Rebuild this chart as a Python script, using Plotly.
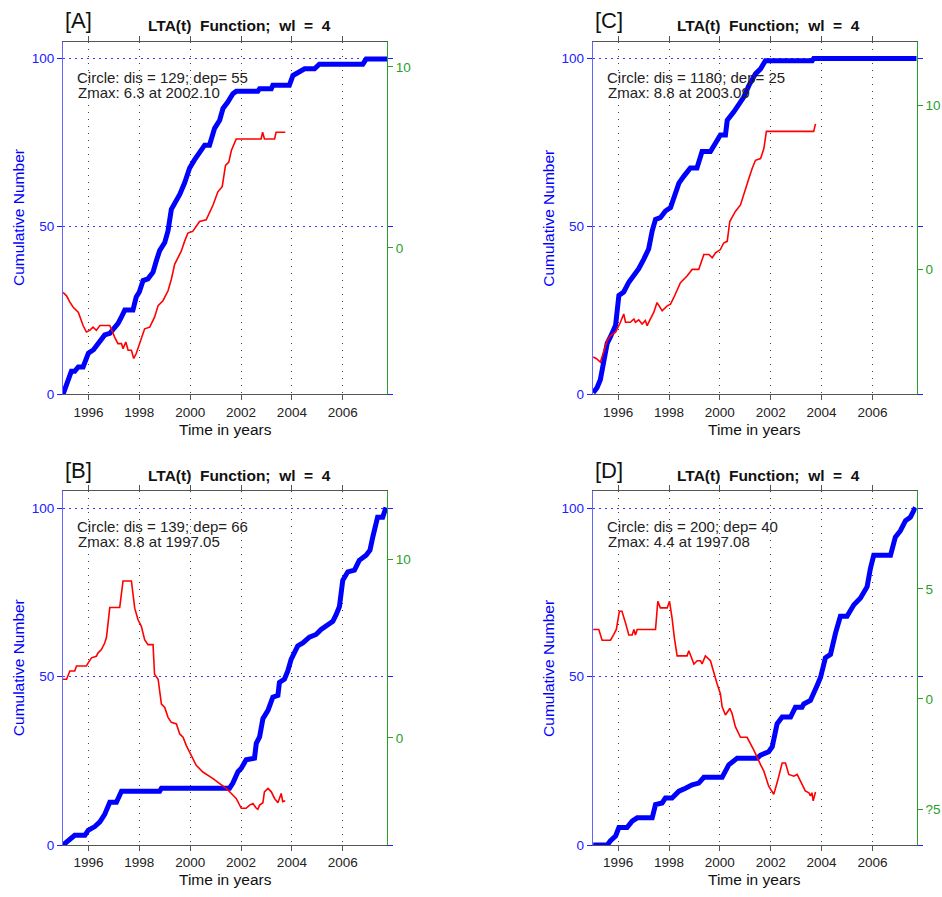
import plotly.graph_objects as go

FONT = "Liberation Sans, Arial, Helvetica, sans-serif"
W, H = 942, 897

YEARS = [1996, 1998, 2000, 2002, 2004, 2006]
YEAR_LABELS = ["1996", "1998", "2000", "2002", "2004", "2006"]
X_RANGE = [1995.0, 2007.74]
N_RANGE = [0, 105]
N_TICKS = [0, 50, 100]
N_LABELS = ["0", "50", "100"]

TITLE = "LTA(t)\u00a0\u00a0Function;\u00a0\u00a0wl\u00a0\u00a0=\u00a0\u00a04"
X_TITLE = "Time in years"
Y_TITLE = "Cumulative Number"

# ---------------- Panel A ----------------
A_blue_t = [1995.0, 1995.2, 1995.33, 1995.46, 1995.6, 1995.79, 1996.0, 1996.2, 1996.45, 1996.64, 1996.84,
            1997.03, 1997.16, 1997.3, 1997.43, 1997.75, 1997.88, 1998.0, 1998.15, 1998.34, 1998.54, 1998.67,
            1998.8, 1999.0, 1999.13, 1999.26, 1999.46, 1999.59, 1999.78, 1999.98, 2000.17, 2000.37, 2000.57,
            2000.76, 2000.96, 2001.16, 2001.29, 2001.48, 2001.68, 2001.81, 2002.66, 2002.73, 2003.19, 2003.25,
            2003.9, 2004.04, 2004.3, 2004.5, 2004.89, 2005.08, 2006.79, 2006.92, 2007.74]
A_blue_n = [0, 4.4, 6.9, 6.9, 8.2, 8.2, 12.3, 13.3, 15.7, 17.7, 18.2,
            19.7, 21.1, 23.1, 25.1, 25.1, 29, 30.5, 33.9, 34.4, 36.4, 39.8,
            42.8, 45.2, 48.7, 55.1, 57.5, 59.5, 62.9, 67.4, 69.8, 71.8, 74.2,
            74.2, 79.2, 81.6, 85.1, 87, 89.5, 90.2, 90.2, 91, 91, 92,
            92, 94.9, 95.9, 96.9, 96.9, 98.3, 98.3, 99.8, 99.8]
A_red_t = [1995.0, 1995.14, 1995.27, 1995.4, 1995.6, 1995.79, 1995.92, 1996.05, 1996.18, 1996.31, 1996.45,
           1996.84, 1997.03, 1997.16, 1997.3, 1997.36, 1997.47, 1997.56, 1997.69, 1997.78, 1997.88, 1998.02,
           1998.21, 1998.41, 1998.6, 1998.74, 1998.93, 1999.13, 1999.26, 1999.39, 1999.65, 1999.78, 1999.91,
           2000.1, 2000.24, 2000.37, 2000.63, 2000.76, 2000.9, 2001.09, 2001.26, 2001.39, 2001.52, 2001.62,
           2001.81, 2002.79, 2002.85, 2002.92, 2003.32, 2003.38, 2003.74]
A_red_z = [-2.46, -2.65, -3.0, -3.28, -3.56, -4.29, -4.65, -4.56, -4.38, -4.56, -4.29,
           -4.29, -4.93, -5.29, -5.29, -5.57, -5.2, -5.66, -5.66, -6.11, -5.84, -5.29,
           -4.47, -4.38, -3.83, -3.19, -2.92, -2.37, -1.73, -0.91, -0.18, 0.36, 0.82,
           0.91, 1.19, 1.46, 1.55, 1.92, 2.37, 3.1, 3.38, 4.56, 4.74, 5.38,
           6.02, 6.02, 6.39, 6.02, 6.02, 6.39, 6.39]

# ---------------- Panel C ----------------
C_blue_t = [1995.02, 1995.17, 1995.3, 1995.44, 1995.57, 1995.7, 1995.9, 1996.03, 1996.22, 1996.42, 1996.62,
            1996.81, 1997.01, 1997.2, 1997.34, 1997.47, 1997.66, 1997.86, 1998.06, 1998.19, 1998.39, 1998.58,
            1998.84, 1999.1, 1999.3, 1999.63, 1999.83, 2000.02, 2000.22, 2000.29, 2000.55, 2000.74, 2000.94,
            2001.14, 2001.4, 2001.6, 2001.79, 2003.63, 2003.69, 2007.74]
C_blue_n = [0.5, 2, 4.4, 9.8, 15.2, 17.2, 20.6, 29.5, 30.5, 33.4, 35.4,
            37.4, 40.3, 43.3, 48.7, 52.1, 52.6, 54.6, 55.6, 58.5, 62.9, 64.9,
            67.4, 67.4, 72.3, 72.3, 74.7, 77.2, 77.2, 81.6, 84.1, 86, 88.5,
            91.9, 95.4, 96.9, 99.3, 99.3, 100, 100]
C_red_t = [1995.02, 1995.15, 1995.3, 1995.44, 1995.57, 1995.7, 1995.9, 1996.09, 1996.22, 1996.29, 1996.48,
           1996.62, 1996.68, 1996.81, 1996.94, 1997.07, 1997.14, 1997.27, 1997.4, 1997.53, 1997.73, 1997.93,
           1998.06, 1998.19, 1998.45, 1998.71, 1998.91, 1999.17, 1999.37, 1999.57, 1999.7, 1999.83, 2000.02,
           2000.15, 2000.29, 2000.39, 2000.61, 2000.81, 2001.0, 2001.14, 2001.27, 2001.4, 2001.6, 2001.73,
           2001.83, 2003.69, 2003.76]
C_red_z = [-5.32, -5.42, -5.63, -4.92, -4.31, -4.01, -3.81, -3.2, -2.7, -3.2, -3.2,
           -3.0, -3.2, -3.05, -3.31, -3.1, -3.41, -3.0, -2.6, -2.0, -2.5, -2.2,
           -2.1, -1.69, -0.79, -0.38, 0.02, 0.02, 0.93, 0.93, 0.73, 1.03, 1.23,
           1.63, 1.73, 2.94, 3.55, 3.95, 4.96, 5.56, 6.17, 6.67, 6.77, 7.38,
           8.43, 8.43, 8.89]

# ---------------- Panel B ----------------
B_blue_t = [1995.0, 1995.2, 1995.33, 1995.46, 1995.86, 1995.99, 1996.25, 1996.45, 1996.64, 1996.84, 1997.1,
            1997.3, 1998.8, 1998.87, 2001.55, 2001.68, 2001.88, 2002.01, 2002.2, 2002.4, 2002.53, 2002.6,
            2002.73, 2002.86, 2003.06, 2003.25, 2003.45, 2003.51, 2003.71, 2003.84, 2003.97, 2004.23, 2004.43,
            2004.69, 2004.95, 2005.15, 2005.41, 2005.61, 2005.74, 2005.87, 2006.0, 2006.2, 2006.46, 2006.65,
            2006.92, 2007.07, 2007.18, 2007.37, 2007.57, 2007.7]
B_blue_n = [0, 1.3, 2, 2.9, 2.9, 4.4, 5.5, 6.9, 9.1, 12.7, 12.7,
            16, 16, 16.9, 16.9, 18.4, 21.8, 22.8, 25.3, 25.8, 25.8, 30.2,
            32.1, 37.5, 40, 43.9, 44.4, 48.3, 49.3, 51.7, 55.1, 59.1, 60,
            61.7, 62.5, 64, 65.4, 66.4, 68.4, 70.8, 78.6, 81.1, 81.6, 84.5,
            86, 87.5, 91.4, 97.3, 97.3, 100.2]
B_red_t = [1995.0, 1995.14, 1995.27, 1995.46, 1995.53, 1995.92, 1995.99, 1996.12, 1996.31, 1996.38, 1996.51,
           1996.64, 1996.71, 1996.84, 1997.23, 1997.36, 1997.69, 1997.82, 1997.95, 1998.08, 1998.21, 1998.34,
           1998.54, 1998.6, 1998.74, 1998.87, 1999.0, 1999.13, 1999.26, 1999.46, 1999.59, 1999.72, 1999.85,
           2000.04, 2000.24, 2000.5, 2000.7, 2000.9, 2001.16, 2001.42, 2001.62, 2001.81, 2002.01, 2002.2,
           2002.34, 2002.47, 2002.6, 2002.66, 2002.73, 2002.86, 2002.92, 2003.06, 2003.19, 2003.32, 2003.45,
           2003.58, 2003.64, 2003.74]
B_red_z = [3.28, 3.28, 3.74, 3.74, 4.02, 4.02, 4.2, 4.48, 4.57, 4.76, 4.94,
           5.31, 5.63, 7.3, 7.3, 8.78, 8.78, 7.26, 6.61, 6.24, 5.5, 5.22,
           5.22, 3.56, 3.28, 1.89, 1.7, 1.15, 0.87, 0.78, 0.22, 0.04, -0.43,
           -0.98, -1.54, -1.91, -2.09, -2.28, -2.56, -2.83, -3.11, -3.39, -3.94, -3.94,
           -3.76, -3.67, -3.94, -4.0, -3.76, -3.63, -3.02, -2.83, -3.02, -3.39, -3.63,
           -3.11, -3.57, -3.52]

# ---------------- Panel D ----------------
D_blue_t = [1995.02, 1995.57, 1995.7, 1995.9, 1996.03, 1996.35, 1996.55, 1996.75, 1997.34, 1997.47, 1997.73,
            1997.86, 1998.12, 1998.39, 1998.65, 1998.91, 1999.17, 1999.37, 2000.09, 2000.35, 2000.68, 2001.47,
            2001.6, 2001.92, 2002.06, 2002.25, 2002.45, 2002.78, 2002.97, 2003.23, 2003.3, 2003.56, 2003.82,
            2003.96, 2004.15, 2004.35, 2004.55, 2004.74, 2005.0, 2005.27, 2005.53, 2005.79, 2005.92, 2006.05,
            2006.71, 2006.9, 2007.1, 2007.3, 2007.49, 2007.69]
D_blue_n = [0, 0, 1.3, 2.7, 5.2, 5.2, 7.1, 8.1, 8.1, 12, 12.5,
            14, 14, 16, 16.9, 17.9, 18.4, 20.1, 20.1, 23.8, 25.8, 25.8,
            26.7, 27.7, 29.2, 36, 38, 38, 40.9, 40.9, 41.9, 42.9, 47.3,
            49.8, 55.6, 56.6, 63, 67.9, 67.9, 71.3, 73.3, 76.7, 82.1, 86,
            86, 91.4, 93.3, 96.3, 97.3, 100.2]
D_red_t = [1995.02, 1995.24, 1995.37, 1995.7, 1995.83, 1995.93, 1996.05, 1996.15, 1996.29, 1996.42, 1996.55,
           1996.62, 1996.68, 1996.75, 1997.47, 1997.56, 1997.66, 1997.93, 1998.02, 1998.12, 1998.21, 1998.32,
           1998.71, 1998.78, 1998.98, 1999.11, 1999.24, 1999.3, 1999.43, 1999.63, 1999.89, 2000.02, 2000.09,
           2000.22, 2000.39, 2000.48, 2000.61, 2000.81, 2001.07, 2001.33, 2001.6, 2001.73, 2001.92, 2002.12,
           2002.25, 2002.45, 2002.58, 2002.71, 2002.91, 2003.04, 2003.17, 2003.36, 2003.5, 2003.56, 2003.62,
           2003.67, 2003.76]
D_red_z = [3.16, 3.16, 2.67, 2.67, 2.94, 3.16, 3.99, 3.99, 3.46, 2.91, 2.91,
           3.16, 2.91, 3.16, 3.16, 4.44, 4.14, 4.14, 4.44, 3.69, 2.79, 1.96,
           1.96, 2.19, 1.59, 1.74, 1.74, 1.59, 1.96, 1.74, 0.69, 0.24, -0.36,
           -0.73, -0.43, -0.66, -1.26, -1.74, -1.74, -2.31, -2.98, -3.28, -3.96, -4.33,
           -3.81, -2.91, -2.91, -3.43, -3.51, -3.43, -3.73, -4.18, -4.26, -4.41, -4.26,
           -4.63, -4.23]

panels = [
    dict(letter="[A]", box=(63, 42, 387, 398), bt=A_blue_t, bn=A_blue_n, rt=A_red_t, rz=A_red_z,
         rrange=[-8.1, 11.4], rticks=[0, 10], rlabels=["0", "10"],
         line1="Circle: dis = 129; dep= 55", line2="Zmax: 6.3 at 2002.10"),
    dict(letter="[C]", box=(592.7, 42, 916.7, 398), bt=C_blue_t, bn=C_blue_n, rt=C_red_t, rz=C_red_z,
         rrange=[-7.6, 13.9], rticks=[0, 10], rlabels=["0", "10"],
         line1="Circle: dis = 1180; dep= 25", line2="Zmax: 8.8 at 2003.09"),
    dict(letter="[B]", box=(63, 495.7, 387, 852.7), bt=B_blue_t, bn=B_blue_n, rt=B_red_t, rz=B_red_z,
         rrange=[-6.0, 13.8], rticks=[0, 10], rlabels=["0", "10"],
         line1="Circle: dis = 139; dep= 66", line2="Zmax: 8.8 at 1997.05"),
    dict(letter="[D]", box=(592.7, 495.7, 916.7, 852.7), bt=D_blue_t, bn=D_blue_n, rt=D_red_t, rz=D_red_z,
         rrange=[-6.64, 9.44], rticks=[-5, 0, 5], rlabels=["?5", "0", "5"],
         line1="Circle: dis = 200; dep= 40", line2="Zmax: 4.4 at 1997.08"),
]

BLUE = "#0000ff"
AXBLUE = "rgb(100,100,255)"
TICKBLUE = "#2020ff"
GREEN = "rgb(40,160,40)"
GRAY = "#555555"


def px(x):
    return x / W


def py(y):
    return 1 - y / H


fig = go.Figure()
layout = dict(
    width=W, height=H, margin=dict(l=0, r=0, t=0, b=0),
    paper_bgcolor="white", plot_bgcolor="white", showlegend=False,
    font=dict(family=FONT, size=13, color="#222222"),
)
annotations = []

for i, p in enumerate(panels):
    k = i + 1
    L, T, R, B = p["box"]
    xa = "x" if k == 1 else f"x{k}"
    ya_left = "y" if k == 1 else f"y{k}"
    ya_right = f"y{k + 4}"
    ya_tick = f"y{k + 8}"

    fig.add_trace(go.Scatter(x=p["rt"], y=p["rz"], mode="lines", line=dict(color="#ff0000", width=1.6),
                             xaxis=xa, yaxis=ya_right, hoverinfo="skip"))
    fig.add_trace(go.Scatter(x=p["bt"], y=p["bn"], mode="lines", line=dict(color=BLUE, width=5),
                             xaxis=xa, yaxis=ya_left, hoverinfo="skip"))
    fig.add_trace(go.Scatter(x=[X_RANGE[0]], y=[None], mode="lines", xaxis=xa, yaxis=ya_tick,
                             hoverinfo="skip"))

    xname = "xaxis" if k == 1 else f"xaxis{k}"
    yname = "yaxis" if k == 1 else f"yaxis{k}"
    layout[xname] = dict(
        domain=[px(L), px(R)], anchor=ya_left, range=X_RANGE,
        tickvals=YEARS, ticktext=YEAR_LABELS, ticks="outside", ticklen=5, tickcolor=GRAY,
        showline=True, linecolor=GRAY, linewidth=1, mirror="ticks",
        showgrid=True, gridcolor="#444444", griddash="1px,6px", gridwidth=1,
        zeroline=False, tickfont=dict(family=FONT, size=13.5, color="#222222"),
    )
    layout[yname] = dict(
        domain=[py(B), py(T)], anchor=xa, range=N_RANGE,
        tickvals=N_TICKS, ticktext=N_LABELS, ticks="outside", ticklen=5, tickcolor=TICKBLUE,
        showline=True, linecolor=AXBLUE, linewidth=1,
        showgrid=True, gridcolor="#3a3aff", griddash="2px,4px", gridwidth=1,
        zeroline=False, tickfont=dict(family=FONT, size=13.5, color=TICKBLUE),
    )
    layout[f"yaxis{k + 8}"] = dict(
        overlaying=ya_left, anchor=xa, side="right", range=N_RANGE,
        tickvals=N_TICKS, ticks="outside", ticklen=5, tickcolor=TICKBLUE,
        showticklabels=False, showline=False, showgrid=False, zeroline=False,
    )
    layout[f"yaxis{k + 4}"] = dict(
        overlaying=ya_left, anchor=xa, side="right", range=p["rrange"],
        tickvals=p["rticks"], ticktext=p["rlabels"], ticks="outside", ticklen=5, tickcolor=GREEN,
        showline=True, linecolor=GREEN, linewidth=1, showgrid=False, zeroline=False,
        tickfont=dict(family=FONT, size=13.5, color=GREEN),
    )

    annotations += [
        dict(text=p["letter"], x=px(L), y=py(T - 21), xref="paper", yref="paper", xanchor="left",
             yanchor="middle", showarrow=False, font=dict(family=FONT, size=22, color="#111111")),
        dict(text="<b>" + TITLE + "</b>", x=px((L + R) / 2 + 14), y=py(T - 16), xref="paper", yref="paper",
             xanchor="center", yanchor="middle", showarrow=False,
             font=dict(family=FONT, size=15.5, color="#111111")),
        dict(text=p["line1"], x=px(L + 12), y=py(T + 36), xref="paper", yref="paper", xanchor="left",
             yanchor="middle", showarrow=False, font=dict(family=FONT, size=15, color="#222222")),
        dict(text=p["line2"], x=px(L + 13), y=py(T + 51), xref="paper", yref="paper", xanchor="left",
             yanchor="middle", showarrow=False, font=dict(family=FONT, size=15, color="#222222")),
        dict(text=Y_TITLE, x=px(L - 45), y=py((T + B) / 2), xref="paper", yref="paper", xanchor="center",
             yanchor="middle", textangle=-90, showarrow=False, font=dict(family=FONT, size=15.5, color=BLUE)),
        dict(text=X_TITLE, x=px((L + R) / 2), y=py(B + 35), xref="paper", yref="paper", xanchor="center",
             yanchor="middle", showarrow=False, font=dict(family=FONT, size=15.5, color="#111111")),
    ]

layout["annotations"] = annotations
fig.update_layout(**layout)
fig.write_html("out.html")
